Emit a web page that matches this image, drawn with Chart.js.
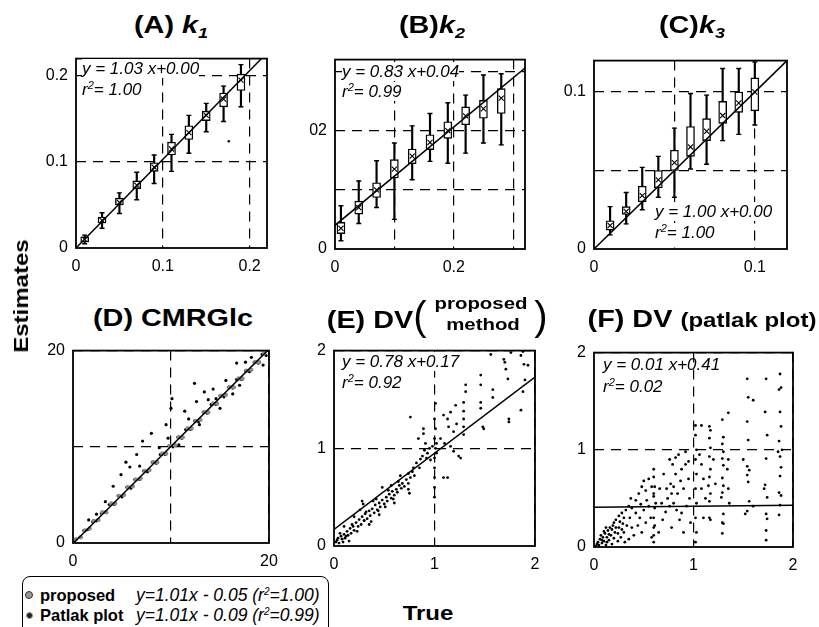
<!DOCTYPE html>
<html>
<head>
<meta charset="utf-8">
<script src="https://cdn.jsdelivr.net/npm/chart.js@4.4.0/dist/chart.umd.min.js"></script>
<style>
  body { margin:0; width:819px; height:627px; background:#fff; position:relative; overflow:hidden;
         font-family:"Liberation Sans", Arial, sans-serif; color:#000; }
  canvas { position:absolute; }
  .t { position:absolute; white-space:nowrap; line-height:1; font-weight:bold; transform-origin:50% 50%; }
  .eq { position:absolute; white-space:nowrap; font-style:italic; font-size:17px; line-height:19px; }
  .eq.bg span { background:#fff; }
  .eq sup { font-size:11px; vertical-align:6px; line-height:0; }
  .lg { position:absolute; white-space:nowrap; font-size:16.5px; line-height:20px; }
</style>
</head>
<body>
<script>
// ---- data: top row, boxplots (true value, whisker low, q1, median, q3, whisker high)
const k1True = [0.01, 0.03, 0.05, 0.07, 0.09, 0.11, 0.13, 0.15, 0.17, 0.19];
const k1Lo   = [0.005, 0.023, 0.040, 0.056, 0.075, 0.089, 0.110, 0.135, 0.147, 0.164];
const k1Q1   = [0.007, 0.029, 0.050, 0.069, 0.089, 0.108, 0.126, 0.148, 0.164, 0.183];
const k1Med  = [0.010, 0.032, 0.053, 0.073, 0.094, 0.115, 0.134, 0.154, 0.173, 0.195];
const k1Q3   = [0.013, 0.036, 0.058, 0.078, 0.099, 0.123, 0.142, 0.159, 0.180, 0.202];
const k1Hi   = [0.015, 0.041, 0.064, 0.088, 0.108, 0.132, 0.154, 0.168, 0.188, 0.213];
const k1Stray = [[0.176, 0.124]];

const k2True = [0.01, 0.04, 0.07, 0.10, 0.13, 0.16, 0.19, 0.22, 0.25, 0.28];
const k2Lo   = [0.014, 0.043, 0.070, 0.050, 0.117, 0.148, 0.145, 0.162, 0.179, 0.176];
const k2Q1   = [0.026, 0.059, 0.087, 0.120, 0.144, 0.168, 0.187, 0.210, 0.221, 0.229];
const k2Med  = [0.035, 0.070, 0.100, 0.135, 0.157, 0.180, 0.200, 0.225, 0.237, 0.255];
const k2Q3   = [0.045, 0.081, 0.112, 0.151, 0.169, 0.193, 0.215, 0.240, 0.251, 0.271];
const k2Hi   = [0.073, 0.115, 0.149, 0.179, 0.208, 0.229, 0.247, 0.260, 0.294, 0.296];

const k3True = [0.01, 0.02, 0.03, 0.04, 0.05, 0.06, 0.07, 0.08, 0.09, 0.10];
const k3Lo   = [0.009, 0.016, 0.025, 0.033, 0.033, 0.051, 0.054, 0.069, 0.073, 0.079];
const k3Q1   = [0.012, 0.022, 0.030, 0.039, 0.050, 0.059, 0.069, 0.080, 0.087, 0.088];
const k3Med  = [0.015, 0.024, 0.034, 0.044, 0.055, 0.065, 0.075, 0.085, 0.093, 0.100];
const k3Q3   = [0.018, 0.027, 0.040, 0.050, 0.063, 0.078, 0.083, 0.094, 0.100, 0.109];
const k3Hi   = [0.027, 0.036, 0.052, 0.059, 0.077, 0.099, 0.098, 0.115, 0.115, 0.119];

// regression lines [slope, intercept] as printed in each panel
const fitA = [1.03, 0.00], fitB = [0.83, 0.04], fitC = [1.00, 0.00];
const fitD = [1.01, -0.05], fitE = [0.78, 0.17], fitF = [0.01, 0.41];

// ---- data: bottom row, scatter [true, estimate]
const cmrProposed = [[0.3,0.4],[0.8,0.6],[1.2,1.3],[1.7,1.5],[2.1,2.3],[2.6,2.4],[3.0,3.2],[3.4,3.2],[3.9,4.1],[4.3,4.1],
  [4.7,4.9],[5.2,5.0],[5.6,5.8],[6.1,5.9],[6.4,6.6],[6.9,6.7],[7.3,7.5],[7.8,7.6],[8.2,8.4],[8.6,8.4],[9.1,9.3],[9.5,9.3],
  [9.9,10.1],[10.4,10.2],[10.8,11.0],[11.2,11.0],[11.7,11.9],[12.1,11.9],[12.5,12.7],[13.0,12.8],[13.4,13.6],[13.8,13.6],
  [14.3,14.5],[14.7,14.5],[15.1,15.3],[15.6,15.4],[16.0,16.2],[16.4,16.2],[16.9,17.1],[17.3,17.1],[17.7,17.9],[18.2,18.0],
  [18.6,18.8],[19.0,18.8],[19.5,19.7]];
const cmrPatlak = [[0.2,0.3],[0.7,0.6],[1.1,1.3],[1.5,1.4],[2.0,2.2],[2.4,2.3],[2.9,3.1],[3.3,3.2],[3.7,4.0],[4.2,4.0],
  [4.6,4.9],[5.0,4.8],[5.5,5.8],[5.9,5.7],[6.3,6.6],[6.8,6.6],[7.2,7.5],[7.6,7.4],[8.1,8.4],[8.5,8.3],[8.9,9.2],[9.4,9.2],
  [9.8,10.1],[10.2,10.0],[10.7,11.0],[11.1,10.9],[11.5,11.8],[12.0,11.8],[12.4,12.7],[12.8,12.6],[13.3,13.6],[13.7,13.5],
  [14.1,14.4],[14.6,14.4],[15.0,15.3],[15.4,15.2],[15.9,16.2],[16.3,16.1],[16.7,17.0],[17.2,17.0],[17.6,17.9],[18.0,17.8],
  [18.5,18.8],[18.9,18.7],[19.3,19.6],[19.7,19.5],
  [16.7,18.7],[12.4,16.6],[10.1,15.0],[13.4,15.7],[14.3,16.0],[14.6,15.0],[12.6,14.7],[11.4,13.7],[9.5,12.3],[8.0,11.4],
  [10.0,14.0],[5.4,8.4],[5.8,7.9],[4.9,7.1],[4.1,5.9],[2.4,3.0],[6.5,9.2],[7.1,10.6],[19.4,18.5],[16.3,15.5],[17.0,16.4],
  [15.0,14.0],[12.9,12.3],[10.8,10.2],[8.8,9.9],[3.3,4.3],[1.6,2.4],[18.2,19.3],[6.8,8.0],[9.7,10.9],[11.8,12.9],
  [13.8,14.9],[15.6,16.9],[17.6,18.8]];

const dvProposed = [[0.02,0.04],[0.04,0.08],[0.05,0.03],[0.07,0.1],[0.08,0.07],[0.1,0.12],[0.11,0.08],[0.13,0.15],[0.14,0.11],
  [0.16,0.18],[0.17,0.13],[0.19,0.2],[0.2,0.16],[0.22,0.24],[0.24,0.2],[0.25,0.27],[0.27,0.22],[0.28,0.3],[0.3,0.26],[0.31,0.33],
  [0.33,0.28],[0.35,0.36],[0.36,0.31],[0.38,0.38],[0.4,0.34],[0.41,0.42],[0.43,0.37],[0.45,0.44],[0.46,0.4],[0.48,0.47],[0.5,0.43],
  [0.52,0.5],[0.53,0.46],[0.55,0.53],[0.57,0.49],[0.58,0.56],[0.6,0.52],[0.62,0.58],[0.63,0.55],[0.65,0.62],[0.67,0.59],[0.68,0.64],
  [0.7,0.61],[0.28,0.46],[0.29,0.43],[0.26,0.37],[0.3,0.26],[0.39,0.46],[0.51,0.4],[0.48,0.6],[0.2,0.3],[0.15,0.05],[0.35,0.22],
  [0.45,0.32],[0.6,0.44],[0.1,0.2],[0.57,0.62],[0.66,0.72],[0.06,0.13],[0.12,0.1],[0.18,0.22],[0.23,0.15],[0.32,0.35],[0.37,0.25],
  [0.42,0.48],[0.44,0.36],[0.54,0.57],[0.59,0.48],[0.64,0.66],[0.03,0.06],[0.09,0.04],
  [0.72,0.68],[0.74,0.74],[0.74,0.64],[0.74,0.58],[0.75,0.54],[0.76,0.7],[0.76,1.32],[0.78,0.76],[0.79,0.8],[0.8,0.72],[0.82,0.85],
  [0.84,1.1],[0.85,0.8],[0.86,0.89],[0.88,0.92],[0.89,1.2],[0.89,1.15],[0.9,0.98],[0.91,1.05],[0.92,0.9],[0.93,0.95],[0.95,1.0],
  [0.96,0.88],[0.98,1.02],
  [1.0,0.5],[1.0,0.6],[1.0,0.7],[1.0,0.8],[1.0,0.9],[1.01,1.0],[1.0,1.1],[1.01,1.2],[1.0,1.3],[1.01,1.46],[1.02,0.95],[1.02,1.05],
  [1.09,1.34],[1.09,0.7],[1.13,1.3],[1.13,0.7],[1.14,1.22],[1.16,1.37],[1.19,1.17],[1.19,0.97],[1.21,1.44],[1.24,0.92],[1.26,0.9],
  [1.29,1.47],[1.29,1.38],[1.29,1.3],[1.29,1.22],[1.29,1.14],[1.31,1.65],[1.31,1.58],[1.06,1.1],[1.1,1.05],[1.16,1.02],[1.22,1.25],
  [1.46,1.75],[1.46,1.65],[1.46,1.47],[1.46,1.41],[1.48,1.22],[1.49,1.2],[1.56,1.96],[1.58,1.6],[1.58,1.52],
  [1.69,1.91],[1.71,1.81],[1.73,1.71],[1.74,1.3],[1.74,1.27],[1.76,1.98],[1.86,1.95],[1.89,1.86],[1.88,1.58],[1.86,1.39],
  [1.93,1.85],[1.9,1.7],[1.7,1.88],[1.88,1.99]];

const dvPatlak = [[1.87,1.78],[1.88,1.64],[1.86,1.62],[1.87,1.39],[1.88,1.24],[1.86,1.09],[1.87,0.93],[1.88,0.82],[1.87,0.73],
  [1.86,0.56],[1.88,0.53],[1.87,0.43],[1.86,0.33],[1.89,1.0],[1.85,0.98],
  [1.73,1.73],[1.72,1.39],[1.74,1.15],[1.73,0.91],[1.72,0.64],[1.74,0.51],[1.73,0.34],[1.74,0.29],[1.73,0.17],[1.73,0.07],[1.71,0.6],
  [1.54,1.73],[1.55,1.54],[1.6,1.51],[1.54,1.29],[1.55,1.1],[1.54,0.83],[1.56,0.79],[1.54,0.74],[1.55,0.67],[1.56,0.47],[1.54,0.37],
  [1.52,0.34],[1.6,0.42],[1.5,0.9],
  [1.29,1.31],[1.3,1.13],[1.29,1.06],[1.3,0.98],[1.29,0.91],[1.3,0.84],[1.29,0.71],[1.3,0.63],[1.29,0.56],[1.28,0.51],[1.3,0.34],
  [1.29,0.25],[1.3,0.24],[1.29,0.14],[1.35,1.38],[1.35,0.9],[1.35,0.6],[1.34,0.8],[1.36,0.45],
  [1.16,1.24],[1.17,1.2],[1.16,1.12],[1.17,1.02],[1.16,0.93],[1.17,0.8],[1.16,0.72],[1.15,0.63],[1.17,0.55],[1.16,0.47],[1.16,0.3],
  [1.17,0.28],[1.2,0.9],[1.22,0.65],
  [1.08,1.25],[1.08,0.85],[1.08,0.6],[1.1,0.3],[1.02,1.25],[1.02,1.15],[1.03,1.0],[1.02,0.9],[1.03,0.75],[1.02,0.6],[1.03,0.45],
  [1.02,0.3],[1.03,0.15],[1.02,0.05],[1.06,0.95],[1.1,0.7],[1.12,0.5],
  [0.92,0.98],[0.92,0.85],[0.95,0.7],[0.9,0.6],[0.96,0.5],[0.93,0.42],[0.97,0.25],[0.88,0.35],[0.85,0.95],[0.82,0.75],[0.84,0.55],
  [0.8,0.45],[0.86,0.28],[0.78,0.2],[0.76,0.9],[0.77,0.65],[0.74,0.5],[0.72,0.36],[0.7,0.75],[0.69,0.28],[0.66,0.6],[0.68,0.45],
  [0.65,0.15],[0.88,0.8],[0.8,0.62],[0.9,0.15],[0.83,0.38],[0.76,0.42],[0.79,0.85],[0.95,0.88],[0.87,0.68],[0.73,0.6],[0.82,0.92],
  [0.78,0.55],
  [0.6,0.8],[0.6,0.72],[0.61,0.62],[0.6,0.55],[0.61,0.4],[0.6,0.3],[0.61,0.22],[0.6,0.12],[0.6,0.05],
  [0.42,0.48],[0.45,0.55],[0.48,0.62],[0.5,0.68],[0.52,0.58],[0.55,0.7],[0.58,0.62],[0.6,0.52],[0.55,0.42],[0.5,0.38],[0.46,0.3],
  [0.44,0.22],[0.42,0.35],[0.48,0.15],[0.52,0.25],[0.57,0.3],[0.6,0.2],[0.58,0.1],[0.4,0.12],[0.53,0.48],[0.47,0.44],[0.62,0.45],
  [0.38,0.4],
  [0.22,0.28],[0.25,0.32],[0.28,0.35],[0.3,0.3],[0.32,0.38],[0.35,0.42],[0.36,0.3],[0.33,0.22],[0.3,0.15],[0.27,0.1],[0.25,0.2],
  [0.24,0.06],[0.38,0.2],[0.35,0.08],[0.29,0.24],[0.21,0.15],[0.31,0.05],[0.37,0.5],
  [0.02,0.01],[0.04,0.05],[0.05,0.02],[0.06,0.08],[0.08,0.04],[0.09,0.1],[0.1,0.06],[0.11,0.14],[0.12,0.02],[0.13,0.1],[0.14,0.17],
  [0.15,0.07],[0.16,0.2],[0.17,0.12],[0.18,0.03],[0.19,0.22],[0.2,0.09],[0.07,0.12],[0.12,0.2],[0.03,0.03],[0.1,0.16],[0.15,0.13],
  [0.18,0.18],[0.22,0.2],[0.26,0.26],[0.08,0.07],[0.13,0.05],[0.2,0.25],[0.24,0.14],[0.28,0.18]];

// tick labels shown on each axis
const ticksA = [[0, '0'], [0.1, '0.1'], [0.2, '0.2']];
const ticksBx = [[0, '0'], [0.2, '0.2']];
const ticksBy = [[0, '0'], [0.2, '02']];
const ticksC = [[0, '0'], [0.1, '0.1']];
const ticksD = [[0, '0'], [20, '20']];
const ticksEF = [[0, '0'], [1, '1'], [2, '2']];

// ---- layout helpers
Chart.defaults.font.family = '"Liberation Sans", Arial, sans-serif';
const PAD_L = 50, PAD_T = 15, PAD_R = 22, PAD_B = 30;

const framePlugin = {
  id: 'frame',
  afterDraw(chart) {
    const { ctx, chartArea: a } = chart;
    ctx.save();
    ctx.strokeStyle = '#000';
    ctx.lineWidth = 1.8;
    ctx.setLineDash([]);
    ctx.strokeRect(a.left, a.top, a.right - a.left, a.bottom - a.top);
    ctx.restore();
  }
};

function axis(max, step, labels, pos) {
  return {
    type: 'linear', min: 0, max: max, position: pos, offset: false,
    ticks: {
      stepSize: step, includeBounds: false, autoSkip: false, maxRotation: 0,
      padding: pos === 'left' ? 8 : 9, color: '#000', font: { size: 16 },
      callback: v => {
        const hit = labels.find(l => Math.abs(l[0] - v) < 1e-9);
        return hit ? hit[1] : '';
      }
    },
    grid: {
      color: c => (c.tick && c.tick.value > 1e-9) ? '#000' : 'rgba(0,0,0,0)',
      lineWidth: 1.2, drawTicks: false, offset: false
    },
    border: { display: false, dash: [10, 7] },
    afterFit: s => { if (pos === 'left') s.width = PAD_L; else s.height = PAD_B; }
  };
}

function fitLine(fit, xmax) {
  return {
    type: 'line', order: 0,
    data: [{ x: 0, y: fit[1] }, { x: xmax, y: fit[0] * xmax + fit[1] }],
    borderColor: '#000', borderWidth: 1.5, pointRadius: 0
  };
}

function boxSets(xs, lo, q1, med, q3, hi) {
  return [
    { type: 'bar', order: 5, grouped: false, barThickness: 1.5, backgroundColor: '#000',
      data: xs.map((x, i) => ({ x: x, y: [lo[i], hi[i]] })) },
    { type: 'bar', order: 4, grouped: false, barThickness: 8, backgroundColor: '#fff',
      borderColor: '#000', borderWidth: 1.4, borderSkipped: false,
      data: xs.map((x, i) => ({ x: x, y: [q1[i], q3[i]] })) },
    { type: 'scatter', order: 2, pointStyle: 'crossRot', pointRadius: 3.6, borderColor: '#000', borderWidth: 1.1,
      data: xs.map((x, i) => ({ x: x, y: med[i] })) },
    { type: 'scatter', order: 1, pointStyle: 'line', pointRadius: 2.5, borderColor: '#000', borderWidth: 1.4,
      data: xs.map((x, i) => ({ x: x, y: lo[i] })).concat(xs.map((x, i) => ({ x: x, y: hi[i] }))) }
  ];
}

function dots(pts, color, r) {
  return { type: 'scatter', order: 3, data: pts.map(p => ({ x: p[0], y: p[1] })),
           pointRadius: r, backgroundColor: color, borderWidth: 0 };
}

function makePanel(box, type, datasets, xAxis, yAxis) {
  const canvas = document.createElement('canvas');
  canvas.width = box.r - box.l + PAD_L + PAD_R;
  canvas.height = box.b - box.t + PAD_T + PAD_B;
  canvas.style.left = (box.l - PAD_L) + 'px';
  canvas.style.top = (box.t - PAD_T) + 'px';
  document.body.appendChild(canvas);
  new Chart(canvas, {
    type: type,
    data: { datasets: datasets },
    options: {
      responsive: false, animation: false, devicePixelRatio: 1, events: [],
      layout: { padding: { left: 0, top: PAD_T, right: PAD_R, bottom: 0 } },
      plugins: { legend: { display: false }, tooltip: { enabled: false } },
      scales: { x: xAxis, y: yAxis }
    },
    plugins: [framePlugin]
  });
}

// ---- panels
makePanel({ l: 76, t: 56, r: 267, b: 248 }, 'bar',
  boxSets(k1True, k1Lo, k1Q1, k1Med, k1Q3, k1Hi).concat([fitLine(fitA, 0.22), dots(k1Stray, '#000', 1.3)]),
  axis(0.22, 0.1, ticksA, 'bottom'), axis(0.22, 0.1, ticksA, 'left'));

makePanel({ l: 335, t: 57, r: 525, b: 249 }, 'bar',
  boxSets(k2True, k2Lo, k2Q1, k2Med, k2Q3, k2Hi).concat([fitLine(fitB, 0.32)]),
  axis(0.32, 0.1, ticksBx, 'bottom'), axis(0.32, 0.1, ticksBy, 'left'));

makePanel({ l: 594, t: 58, r: 787, b: 249 }, 'bar',
  boxSets(k3True, k3Lo, k3Q1, k3Med, k3Q3, k3Hi).concat([fitLine(fitC, 0.12)]),
  axis(0.12, 0.05, ticksC, 'bottom'), axis(0.12, 0.05, ticksC, 'left'));

makePanel({ l: 73, t: 348, r: 269, b: 543 }, 'scatter',
  [dots(cmrProposed, '#8a8a8a', 2.2), dots(cmrPatlak, '#000', 1.6), fitLine(fitD, 20)],
  axis(20, 10, ticksD, 'bottom'), axis(20, 10, ticksD, 'left'));

makePanel({ l: 334, t: 348, r: 535, b: 546 }, 'scatter',
  [dots(dvProposed, '#000', 1.4), fitLine(fitE, 2)],
  axis(2, 1, ticksEF, 'bottom'), axis(2, 1, ticksEF, 'left'));

makePanel({ l: 594, t: 350, r: 793, b: 547 }, 'scatter',
  [dots(dvPatlak, '#000', 1.4), fitLine(fitF, 2)],
  axis(2, 1, ticksEF, 'bottom'), axis(2, 1, ticksEF, 'left'));
</script>

<!-- titles -->
<div class="t" style="left:171px;top:26px;font-size:24px;transform:translate(-50%,-50%) scaleX(1.2)">(A) <i>k</i><span style="font-size:15px;font-style:italic;vertical-align:-5px">1</span></div>
<div class="t" style="left:432px;top:26px;font-size:24px;transform:translate(-50%,-50%) scaleX(1.2)">(B)<i>k</i><span style="font-size:15px;font-style:italic;vertical-align:-5px">2</span></div>
<div class="t" style="left:692px;top:26px;font-size:24px;transform:translate(-50%,-50%) scaleX(1.2)">(C)<i>k</i><span style="font-size:15px;font-style:italic;vertical-align:-5px">3</span></div>

<div class="t" style="left:173px;top:318px;font-size:24px;transform:translate(-50%,-50%) scaleX(1.2)">(D) CMRGlc</div>
<div class="t" style="left:370px;top:320px;font-size:24px;transform:translate(-50%,-50%) scaleX(1.2)">(E) DV</div>
<div class="t" style="left:420px;top:316px;font-size:40px;font-weight:normal;transform:translate(-50%,-50%)">(</div>
<div class="t" style="left:481px;top:303px;font-size:17px;transform:translate(-50%,-50%) scaleX(1.2)">proposed</div>
<div class="t" style="left:483px;top:324px;font-size:17px;transform:translate(-50%,-50%) scaleX(1.2)">method</div>
<div class="t" style="left:541px;top:316px;font-size:40px;font-weight:normal;transform:translate(-50%,-50%)">)</div>
<div class="t" style="left:702px;top:319px;font-size:24px;transform:translate(-50%,-50%) scaleX(1.2)">(F) DV <span style="font-size:20px">(patlak plot)</span></div>

<!-- axis titles -->
<div class="t" style="left:21px;top:296px;font-size:20px;transform:translate(-50%,-50%) rotate(-90deg) scaleX(1.2)">Estimates</div>
<div class="t" style="left:428px;top:613px;font-size:20px;transform:translate(-50%,-50%) scaleX(1.2)">True</div>

<!-- regression equations -->
<div class="eq bg" style="left:82px;top:59px"><span>y = 1.03 x+0.00</span></div>
<div class="eq bg" style="left:82px;top:80px"><span>r<sup>2</sup>= 1.00</span></div>
<div class="eq bg" style="left:342px;top:62px"><span>y = 0.83 x+0.04</span></div>
<div class="eq bg" style="left:342px;top:82px"><span>r<sup>2</sup>= 0.99</span></div>
<div class="eq bg" style="left:655px;top:202px"><span>y = 1.00 x+0.00</span></div>
<div class="eq bg" style="left:655px;top:223px"><span>r<sup>2</sup>= 1.00</span></div>
<div class="eq bg" style="left:342px;top:352px"><span>y = 0.78 x+0.17</span></div>
<div class="eq bg" style="left:342px;top:373px"><span>r<sup>2</sup>= 0.92</span></div>
<div class="eq" style="left:603px;top:355px"><span>y = 0.01 x+0.41</span></div>
<div class="eq" style="left:603px;top:377px"><span>r<sup>2</sup>= 0.02</span></div>

<!-- legend box for panel D -->
<div style="position:absolute;left:22px;top:576px;width:305px;height:70px;border:1.5px solid #000;border-radius:8px"></div>
<div style="position:absolute;left:25px;top:591px;width:6px;height:6px;border-radius:50%;background:#999;border:1.2px solid #333"></div>
<div style="position:absolute;left:26px;top:612px;width:5px;height:5px;border-radius:50%;background:#222;border:1px solid #999"></div>
<div class="lg" style="left:40px;top:585px;font-weight:bold">proposed</div>
<div class="lg" style="left:40px;top:605px;font-weight:bold">Patlak plot</div>
<div class="lg" style="left:136px;top:585px;font-style:italic;font-size:17.5px">y=1.01x - 0.05 (r<sup style="font-size:10px;vertical-align:6px;line-height:0">2</sup>=1.00)</div>
<div class="lg" style="left:136px;top:605px;font-style:italic;font-size:17.5px">y=1.01x - 0.09 (r<sup style="font-size:10px;vertical-align:6px;line-height:0">2</sup>=0.99)</div>
</body>
</html>
